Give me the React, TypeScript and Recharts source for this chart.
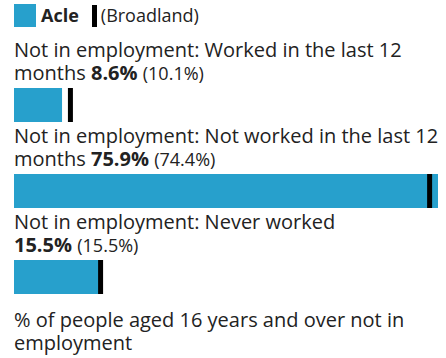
import { BarChart, Bar, XAxis, YAxis, ReferenceLine } from "recharts"

const categories = [
  "Not in employment: Worked in the last 12 months",
  "Not in employment: Not worked in the last 12 months",
  "Not in employment: Never worked",
]
const acleValues = [8.6, 75.9, 15.5]
const broadlandValues = [10.1, 74.4, 15.5]
const areaName = "Acle"
const compareName = "Broadland"
const footnote = "% of people aged 16 years and over not in employment"

const BLUE = "#27a0cc"
const TEXT = "#222222"
const maxVal = Math.max(...acleValues, ...broadlandValues)

function RowBar({ value, compare }: { value: number; compare: number }) {
  const data = [{ name: "row", value }]
  return (
    <BarChart
      width={424}
      height={34}
      data={data}
      layout="vertical"
      margin={{ top: 0, right: 0, bottom: 0, left: 0 }}
      barCategoryGap={0}
    >
      <XAxis type="number" domain={[0, maxVal]} hide />
      <YAxis type="category" dataKey="name" hide />
      <Bar dataKey="value" fill={BLUE} isAnimationActive={false} />
      <ReferenceLine x={compare} stroke="#000" strokeWidth={5} />
    </BarChart>
  )
}

export default function App() {
  return (
    <div
      style={{
        position: "absolute",
        left: 0,
        top: 0,
        width: 446,
        height: 358,
        background: "#fff",
        fontFamily: "'Open Sans', sans-serif",
        color: TEXT,
        fontSize: 20,
        lineHeight: "23.5px",
      }}
    >
      <div
        style={{
          position: "absolute",
          left: 14,
          top: 4,
          display: "flex",
          alignItems: "center",
          height: 23,
          fontSize: 18,
        }}
      >
        <span style={{ width: 22, height: 23, background: BLUE, display: "inline-block" }} />
        <span style={{ fontWeight: 700, marginLeft: 5 }}>{areaName}</span>
        <span style={{ width: 5, height: 22, background: "#000", display: "inline-block", marginLeft: 13 }} />
        <span style={{ marginLeft: 4 }}>({compareName})</span>
      </div>
      {categories.map((cat, i) => (
        <div key={cat} style={{ position: "absolute", left: 14, top: 37.5 + i * 86, width: 432 }}>
          <div>
            {cat}{" "}
            <span style={{ whiteSpace: "nowrap" }}>
              <b>{acleValues[i]}%</b> <span style={{ fontSize: 18 }}>({broadlandValues[i]}%)</span>
            </span>
          </div>
          <div style={{ position: "absolute", top: 50.5, left: 0 }}>
            <RowBar value={acleValues[i]} compare={broadlandValues[i]} />
          </div>
        </div>
      ))}
      <div style={{ position: "absolute", left: 14, top: 307.5, width: 424 }}>{footnote}</div>
    </div>
  )
}
